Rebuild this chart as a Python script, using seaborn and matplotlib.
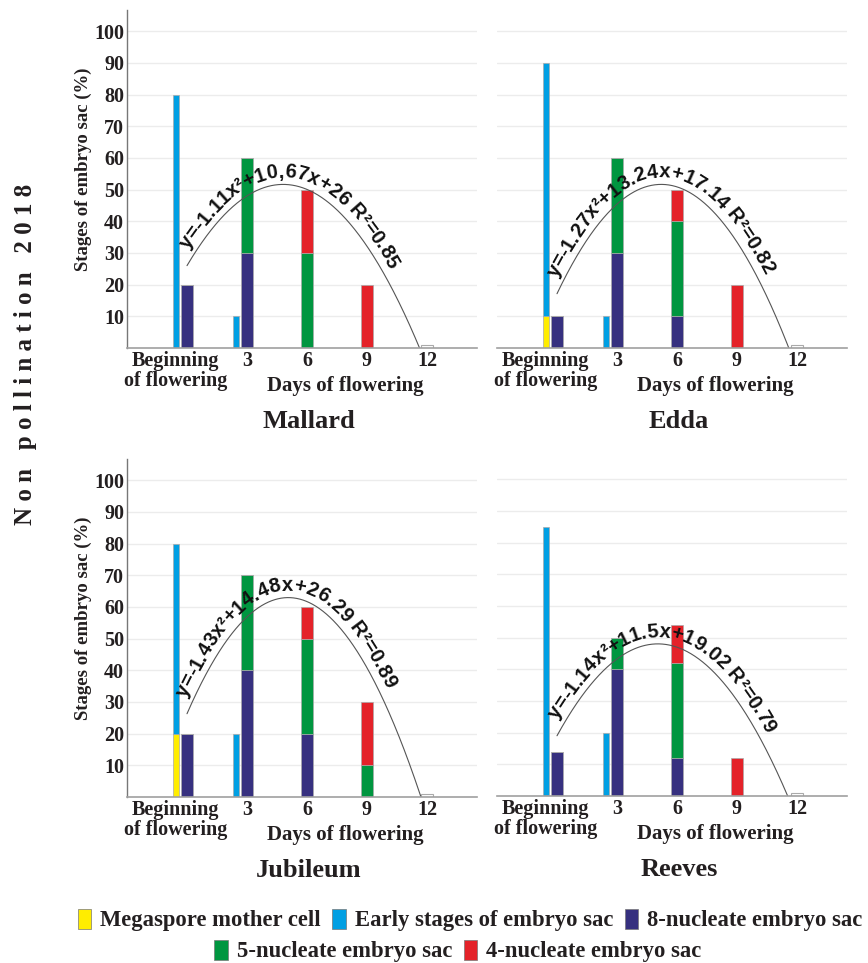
import numpy as np
import matplotlib
matplotlib.use('Agg')
import matplotlib.pyplot as plt
import matplotlib.transforms as mtransforms
from matplotlib.patches import Patch
from matplotlib.font_manager import FontProperties
import seaborn as sns

# data (percent of embryo sacs at each stage)
days = [0, 3, 6, 9, 12]
day_labels = ['Beginning\nof flowering', '3', '6', '9', '12']
varieties = ['Mallard', 'Edda', 'Jubileum', 'Reeves']

# rows = varieties, columns = days
megaspore_mother_cell = [[0, 0, 0, 0, 0], [10, 0, 0, 0, 0], [20, 0, 0, 0, 0], [0, 0, 0, 0, 0]]
early_stages = [[80, 10, 0, 0, 0], [80, 10, 0, 0, 0], [60, 20, 0, 0, 0], [85, 20, 0, 0, 0]]
nucleate_8 = [[20, 30, 0, 0, 0], [10, 30, 10, 0, 0], [20, 40, 20, 0, 0], [14, 40, 12, 0, 0]]
nucleate_5 = [[0, 30, 30, 0, 0], [0, 30, 30, 0, 0], [0, 30, 30, 10, 0], [0, 10, 30, 0, 0]]
nucleate_4 = [[0, 0, 20, 20, 0], [0, 0, 10, 20, 0], [0, 0, 10, 20, 0], [0, 0, 12, 12, 0]]
empty_stage = [0, 0, 0, 0, 1]

# polynomial trend lines y = a*x^2 + b*x + c
trend_a = [-1.11, -1.27, -1.43, -1.14]
trend_b = [10.67, 13.24, 14.48, 11.5]
trend_c = [26, 17.14, 26.29, 19.02]
equations = ['y=-1.11x²+10,67x+26 R²=0.85',
             'y=-1.27x²+13.24x+17.14 R²=0.82',
             'y=-1.43x²+14.48x+26.29 R²=0.89',
             'y=-1.14x²+11.5x+19.02 R²=0.79']

legend_labels = ['Megaspore mother cell', 'Early stages of embryo sac', '8-nucleate embryo sac',
                 '5-nucleate embryo sac', '4-nucleate embryo sac']
colors = ['#FFED00', '#009FE3', '#36307F', '#009640', '#E42229']

sns.set_style('white')
plt.rcParams['font.family'] = ['Liberation Serif', 'DejaVu Serif']
plt.rcParams['font.weight'] = 'bold'
txt_color = '#231f20'

fig = plt.figure(figsize=(8.68, 9.63), dpi=100)
W, H = 868, 963
positions = [(127, 348), (497, 348), (127, 797), (497, 796)]
ax_w, ax_h = 350, 338
axes = []
for k, (x0, y0) in enumerate(positions):
    ax = fig.add_axes([x0 / W, 1 - y0 / H, ax_w / W, ax_h / H])
    axes.append(ax)

eq_font = FontProperties(family='Liberation Sans', size=14.5)


def curved_label(ax, a, b, c, text, offset_px=7, start_px=14):
    root = (-b - np.sqrt(b * b - 4 * a * c)) / (2 * a)
    xs = np.linspace(0, root, 600)
    ys = a * xs ** 2 + b * xs + c
    pts = ax.transData.transform(np.column_stack([xs, ys]))
    d = np.gradient(pts, axis=0)
    ang = np.arctan2(d[:, 1], d[:, 0])
    path = pts + offset_px * np.column_stack([-np.sin(ang), np.cos(ang)])
    s = np.concatenate([[0], np.cumsum(np.hypot(*np.diff(path, axis=0).T))])
    renderer = fig.canvas.get_renderer()

    def width(t):
        return renderer.get_text_width_height_descent(t, eq_font, ismath=False)[0]

    w0 = width('|')
    adv = [width(text[:i] + '|') - w0 for i in range(len(text) + 1)]
    for i, ch in enumerate(text):
        if ch == ' ':
            continue
        mid = start_px + (adv[i] + adv[i + 1]) / 2
        px = np.interp(mid, s, path[:, 0])
        py = np.interp(mid, s, path[:, 1])
        rot = np.degrees(np.interp(mid, s, ang))
        fig.text(px / W, py / H, ch, fontproperties=eq_font, rotation=rot,
                 rotation_mode='anchor', ha='center', va='baseline', color='#111111')
    return xs, ys


for k, ax in enumerate(axes):
    x = np.array(days, dtype=float)
    # early-stage column (megaspore mother cell below, early stages on top)
    mmc = np.array(megaspore_mother_cell[k])
    early = np.array(early_stages[k])
    ax.bar(x - 0.55, mmc, width=0.28, color=colors[0], edgecolor='#aaaaaa', lw=0.5)
    ax.bar(x - 0.55, early, width=0.28, bottom=mmc, color=colors[1], edgecolor='#aaaaaa', lw=0.5)
    # main stacked column
    bottom = np.zeros(len(days))
    for vals, col in zip([nucleate_8[k], nucleate_5[k], nucleate_4[k]], colors[2:]):
        vals = np.array(vals, dtype=float)
        ax.bar(x, vals, width=0.62, bottom=bottom, color=col, edgecolor='#aaaaaa', lw=0.5)
        bottom += vals
    ax.bar(x, empty_stage, width=0.62, color='white', edgecolor='#aaaaaa', lw=0.8)

    ax.set_xlim(-3, 14.5)
    ax.set_ylim(0, 106.7)
    ax.set_yticks(range(10, 101, 10))
    ax.yaxis.grid(True, color='#ececec', lw=1)
    ax.set_axisbelow(True)
    ax.set_xticks(days)
    ax.set_xticklabels(day_labels, fontsize=14.5, fontweight='bold', color=txt_color)
    ax.tick_params(axis='both', length=0)
    ax.tick_params(axis='x', pad=2.5)
    ax.tick_params(axis='y', pad=2)
    for lab in ax.get_xticklabels():
        lab.set_linespacing(1.0)
    first = ax.get_xticklabels()[0]
    first.set_transform(first.get_transform() +
                        mtransforms.ScaledTranslation(-8 / 72, 0, fig.dpi_scale_trans))
    for side in ['top', 'right']:
        ax.spines[side].set_visible(False)
    ax.spines['bottom'].set_color('#a0a0a0')
    ax.spines['bottom'].set_linewidth(1.2)
    if k % 2 == 0:
        ax.spines['left'].set_color('#777777')
        ax.spines['left'].set_linewidth(1)
        ax.set_yticklabels([str(v) for v in range(10, 101, 10)], fontsize=14.5,
                           fontweight='bold', color=txt_color)
        ax.set_ylabel('Stages of embryo sac (%)', fontsize=13.5, fontweight='bold', color=txt_color)
        ax.yaxis.set_label_coords(-0.10, 0.53)
    else:
        ax.spines['left'].set_visible(False)
        ax.set_yticklabels([])

    ax.annotate('Days of flowering', xy=(7.9, 0), xycoords=('data', 'axes fraction'),
                xytext=(0, -38 * 0.72), textcoords='offset points', ha='center', va='center',
                fontsize=15, fontweight='bold', color=txt_color)
    ax.annotate(varieties[k], xy=(6.1, 0), xycoords=('data', 'axes fraction'),
                xytext=(0, -73 * 0.72), textcoords='offset points', ha='center', va='center',
                fontsize=19, fontweight='bold', color=txt_color)

    a, b, c = trend_a[k], trend_b[k], trend_c[k]
    xs, ys = curved_label(ax, a, b, c, equations[k])
    sns.lineplot(x=xs, y=ys, ax=ax, color='#555555', lw=0.8, sort=False, estimator=None)

fig.text(26 / W, 1 - 354 / H, 'N o n   p o l l i n a t i o n   2 0 1 8', rotation=90,
         ha='center', va='center', fontsize=18, fontweight='bold', color=txt_color)

handles = [Patch(facecolor=col, edgecolor='#777777', lw=0.5) for col in colors]
leg_kw = dict(frameon=False, handlelength=0.6, handleheight=1.0, handletextpad=0.4,
              columnspacing=0.5, borderpad=0, prop=dict(family='Liberation Serif', weight='bold', size=16.3))
leg1 = fig.legend(handles[:3], legend_labels[:3], ncol=3, loc='center',
                  bbox_to_anchor=(470 / W, 1 - 920 / H), **leg_kw)
for t in leg1.get_texts():
    t.set_color(txt_color)
leg2 = fig.legend(handles[3:], legend_labels[3:], ncol=2, loc='center',
                  bbox_to_anchor=(458 / W, 1 - 951 / H), **leg_kw)
for t in leg2.get_texts():
    t.set_color(txt_color)

fig.savefig('out.png', dpi=100)
